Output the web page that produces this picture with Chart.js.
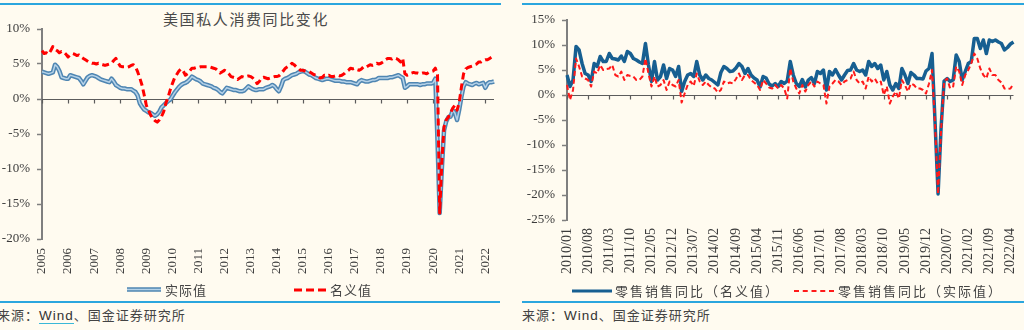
<!DOCTYPE html>
<html>
<head>
<meta charset="utf-8">
<script src="https://cdn.jsdelivr.net/npm/chart.js@4.4.1/dist/chart.umd.min.js"></script>
<style>
  body { margin: 0; width: 1024px; height: 330px; overflow: hidden; position: relative; background: #fffbf0; font-family: "Noto Sans CJK SC", sans-serif; color: #444; }
  canvas { position: absolute; top: 0; }
  .rule { position: absolute; height: 2px; background: #2ba6de; }
  .txt { position: absolute; font-size: 13px; line-height: 18px; white-space: nowrap; }
  .title { position: absolute; left: 163px; top: 8px; font-size: 15px; letter-spacing: 1.6px; color: #4a4a4a; white-space: nowrap; }
  .key { position: absolute; }
  .wind { font-family: "Liberation Sans", sans-serif; font-size: 13.5px; color: #333; }
  .wind.ul { border-bottom: 1.5px solid #39b8d8; }
</style>
</head>
<body>
<div class="rule" style="left:0;top:3px;width:501px"></div>
<div class="rule" style="left:522px;top:3px;width:502px"></div>
<div class="title">美国私人消费同比变化</div>

<canvas id="pceChart" width="502" height="282" style="left:0"></canvas>
<canvas id="retailChart" width="512" height="282" style="left:512px"></canvas>

<!-- legends -->
<svg class="key" style="left:127px;top:286px" width="34" height="7">
  <line x1="0" y1="3.5" x2="34" y2="3.5" stroke="#4f86b2" stroke-width="4.5"/>
  <line x1="0" y1="3.5" x2="34" y2="3.5" stroke="#b5d2e8" stroke-width="1.5"/>
</svg>
<div class="txt" style="left:165px;top:281px;letter-spacing:1px">实际值</div>
<svg class="key" style="left:294px;top:287px" width="32" height="6">
  <line x1="0" y1="3" x2="32" y2="3" stroke="#ff0000" stroke-width="3" stroke-dasharray="8 4"/>
</svg>
<div class="txt" style="left:330px;top:281px;letter-spacing:1px">名义值</div>

<svg class="key" style="left:572px;top:288px" width="40" height="6">
  <line x1="0" y1="3" x2="40" y2="3" stroke="#175f91" stroke-width="3"/>
</svg>
<div class="txt" style="left:615px;top:282px;letter-spacing:2px">零售销售同比（名义值）</div>
<svg class="key" style="left:794px;top:288px" width="40" height="6">
  <line x1="0" y1="3" x2="40" y2="3" stroke="#ff1a1a" stroke-width="2" stroke-dasharray="5 3.75"/>
</svg>
<div class="txt" style="left:838px;top:282px;letter-spacing:2px">零售销售同比（实际值）</div>

<div class="rule" style="left:0;top:301px;width:500px;height:1.5px"></div>
<div class="rule" style="left:522px;top:301px;width:502px;height:1.5px"></div>
<div class="txt" style="left:-3px;top:306px;letter-spacing:1px">来源：<span class="wind ul">Wind</span>、国金证券研究所</div>
<div class="txt" style="left:522px;top:306px;letter-spacing:1px">来源：<span class="wind">Wind</span>、国金证券研究所</div>

<script>
// US personal consumption, yoy %, monthly 2005/01 - 2022/05
const pceYears = ['2005', '2006', '2007', '2008', '2009', '2010', '2011', '2012', '2013',
  '2014', '2015', '2016', '2017', '2018', '2019', '2020', '2021', '2022'];

const pceReal = [
  3.9, 3.8, 3.7, 3.6, 3.7, 3.8, 4.9, 4.6, 4.0, 3.1, 3.0, 2.9,
  2.9, 3.4, 3.3, 3.2, 3.1, 3.0, 2.6, 2.1, 2.6, 3.1, 3.3, 3.4,
  3.3, 3.2, 3.0, 2.8, 2.7, 2.6, 2.5, 2.4, 2.9, 2.5, 2.0, 1.8,
  1.6, 1.5, 1.5, 1.4, 1.4, 1.4, 1.2, 1.0, 0.5, -0.6, -1.1, -1.5,
  -1.7, -1.9, -2.0, -2.2, -2.4, -2.2, -1.8, -1.2, -0.9, -0.6, -0.3, -0.1,
  0.4, 0.9, 1.3, 1.7, 2.0, 2.2, 2.3, 2.5, 2.8, 3.2, 3.0, 2.8,
  2.7, 2.5, 2.2, 2.1, 2.0, 1.9, 1.8, 1.6, 1.5, 1.3, 1.0, 0.8,
  1.2, 1.6, 1.5, 1.4, 1.3, 1.3, 1.2, 1.1, 1.1, 1.2, 1.5, 1.8,
  1.6, 1.4, 1.3, 1.3, 1.4, 1.4, 1.4, 1.6, 1.7, 1.8, 2.0, 1.8,
  1.4, 1.1, 1.8, 2.7, 2.9, 3.0, 3.2, 3.4, 3.5, 3.6, 3.8, 3.9,
  4.0, 3.9, 3.7, 3.5, 3.4, 3.2, 3.0, 2.9, 2.8, 2.7, 2.8, 2.9,
  2.9, 2.8, 2.7, 2.6, 2.6, 2.6, 2.5, 2.5, 2.4, 2.4, 2.4, 2.3,
  2.2, 2.1, 2.5, 2.7, 2.6, 2.5, 2.5, 2.6, 2.7, 2.7, 2.8, 3.0,
  3.0, 3.0, 3.0, 3.0, 3.1, 3.1, 3.2, 3.3, 3.4, 3.2, 3.0, 1.6,
  1.8, 2.1, 2.1, 2.1, 2.1, 2.1, 2.0, 2.1, 2.1, 2.2, 2.2, 2.2,
  2.3, 2.9, -6.0, -16.3, -10.0, -4.5, -3.2, -2.6, -2.5, -1.6, -2.0, -3.0,
  -1.5, 0.3, 1.8, 2.4, 2.2, 2.1, 2.0, 2.2, 2.3, 2.1, 2.2, 2.3,
  1.6, 2.2, 2.4, 2.4, 2.5
];

const pceNominal = [
  6.9, 6.5, 6.6, 6.4, 6.9, 7.5, 7.1, 6.9, 6.6, 6.8, 6.7, 6.4,
  6.0, 6.3, 6.5, 6.4, 6.2, 6.3, 6.0, 5.8, 5.6, 5.4, 5.2, 5.1,
  5.1, 5.0, 5.1, 5.0, 4.9, 4.8, 4.9, 5.0, 5.1, 5.5, 5.8, 5.2,
  4.7, 4.6, 4.6, 4.5, 4.6, 4.8, 4.9, 4.6, 3.9, 3.0, 2.0, 0.6,
  -0.9, -1.6, -2.3, -2.8, -3.1, -3.3, -3.0, -2.5, -1.8, -0.6, 0.2, 1.3,
  2.2, 3.0, 3.5, 4.0, 4.3, 4.0, 3.4, 3.6, 4.0, 4.4, 4.4, 4.5,
  4.5, 4.6, 4.6, 4.6, 4.6, 4.6, 4.5, 4.4, 4.3, 4.0, 3.7, 3.9,
  4.1, 3.9, 3.6, 3.2, 3.1, 3.0, 2.8, 3.0, 3.2, 3.1, 3.2, 3.3,
  3.2, 3.0, 2.7, 2.2, 2.5, 3.0, 3.1, 3.0, 2.9, 3.0, 3.1, 3.2,
  3.2, 3.3, 3.6, 4.0, 4.4, 4.6, 4.8, 5.1, 4.9, 4.6, 4.4, 4.1,
  4.1, 4.0, 3.9, 3.9, 3.7, 3.5, 3.4, 3.2, 3.0, 3.1, 3.4, 3.3,
  3.4, 3.2, 3.2, 3.3, 3.4, 3.3, 3.4, 3.6, 3.9, 4.1, 4.4, 4.3,
  4.4, 4.2, 4.1, 4.3, 4.6, 4.5, 4.7, 4.9, 4.8, 4.9, 5.1, 5.0,
  5.1, 5.3, 5.6, 5.8, 5.8, 5.7, 5.9, 5.8, 5.6, 5.3, 5.8, 3.6,
  3.4, 3.5, 3.7, 3.8, 3.7, 3.7, 3.6, 3.7, 3.7, 3.6, 3.8, 3.9,
  4.0, 4.4, 3.5, -16.3, -9.0, -4.0, -3.0, -2.6, -2.0, -1.3, -0.9, -1.6,
  -0.5, 1.7, 3.6, 4.3, 4.5, 4.6, 4.7, 4.9, 5.0, 5.3, 5.3, 5.5,
  5.6, 5.6, 5.8, 6.0, 6.0
];

// US retail sales, yoy %, monthly 2010/01 - 2022/05
const retailYears = ['2010', '2011', '2012', '2013', '2014', '2015', '2016',
  '2017', '2018', '2019', '2020', '2021', '2022'];

const retailNominal = [
  4.0, 1.7, 3.0, 9.7, 9.0, 6.3, 4.3, 4.0, 2.7, 6.3, 5.7, 7.7,
  6.7, 6.7, 8.3, 7.3, 7.2, 7.0, 7.8, 6.7, 8.7, 8.3, 7.3, 7.0,
  6.6, 6.3, 10.3, 6.0, 2.7, 6.7, 3.0, 3.7, 6.0, 3.3, 5.3, 5.0,
  3.7, 5.7, 0.7, 2.7, 4.0, 4.3, 3.7, 6.7, 4.0, 3.0, 4.0, 3.3,
  3.0, 2.5, 2.0, 4.5, 5.7, 5.3, 4.7, 4.8, 5.4, 6.3, 5.7, 4.3,
  5.3, 4.0, 3.4, 3.0, 1.6, 3.7, 3.4, 2.2, 1.8, 2.3, 1.7, 2.7,
  2.3, 2.8, 6.7, 4.0, 2.3, 1.7, 3.1, 1.6, 3.0, 3.5, 2.3, 4.7,
  4.3, 5.0, 1.0, 4.7, 4.0, 5.1, 4.0, 3.0, 4.0, 4.9, 5.0, 6.3,
  5.0, 4.7, 5.0, 4.0, 6.7, 5.7, 6.3, 5.3, 6.0, 3.0, 4.7, 2.0,
  1.0, 2.3, 1.3, 5.3, 4.0, 2.3, 4.5, 4.0, 3.3, 3.3, 3.2, 4.8,
  5.3, 8.3, -5.5, -19.8, -6.5, 2.8, 3.3, 2.7, 3.0, 8.0, 6.7, 3.0,
  4.7, 6.3, 6.7, 11.3, 11.3, 9.3, 11.0, 8.3, 11.0, 10.7, 11.0, 10.6,
  10.3, 9.0, 9.5, 10.2, 10.6
];

const retailReal = [
  2.0, -1.0, 1.0, 7.3, 5.7, 3.7, 3.3, 3.0, 1.7, 4.7, 4.3, 6.0,
  5.0, 5.2, 5.3, 6.0, 4.0, 3.7, 4.7, 3.0, 4.0, 3.8, 3.7, 3.0,
  3.0, 3.7, 7.3, 4.3, 1.7, 3.7, 1.7, 2.0, 3.0, 1.0, 2.7, 2.0,
  1.7, 3.0, -1.5, 0.3, 2.0, 2.7, 1.8, 4.3, 2.7, 2.0, 2.7, 2.0,
  1.5, 1.3, 0.5, 1.0, 2.7, 2.3, 2.5, 2.3, 3.2, 4.3, 3.0, 4.0,
  4.0, 3.0, 2.5, 2.0, 1.0, 3.0, 2.3, 1.5, 1.3, 2.0, 1.3, 2.0,
  1.3, -0.7, 5.3, 2.7, 1.3, 0.3, 2.0, 0.7, 2.0, 2.7, 1.7, 2.7,
  2.3, 2.0, -1.7, 1.7, 2.3, 3.0, 2.7, 2.0, 2.7, 3.0, 3.3, 4.7,
  3.0, 2.3, 2.7, 1.3, 3.7, 2.7, 3.3, 2.3, 2.7, 0.0, 1.7, -1.7,
  -0.3, 0.7, -0.7, 3.0, 2.0, 0.7, 2.3, 2.0, 1.3, 1.3, 1.0, 0.3,
  2.3, 5.0, -6.0, -19.8, -7.0, 2.7, 3.3, 1.3, 1.7, 5.7, 4.7, 2.0,
  4.0, 5.0, 6.3, 8.3, 7.3, 5.3, 4.0, 3.3, 5.3, 4.0, 4.0, 3.0,
  2.5, 1.3, 1.2, 1.3, 2.3
];

function monthLabels(years, sep, count) {
  const out = [];
  years.forEach(y => {
    for (let m = 1; m <= 12; m++) out.push(y + sep + String(m).padStart(2, '0'));
  });
  return out.slice(0, count);
}

const pceMonths = monthLabels(pceYears, '-', pceNominal.length);
const retailMonths = monthLabels(retailYears, '/', retailNominal.length);

// horizontal axis through zero with small downward ticks at labelled months
const zeroAxis = {
  id: 'zeroAxis',
  beforeDatasetsDraw(chart, args, opts) {
    const { ctx, chartArea, scales: { x, y } } = chart;
    const y0 = Math.round(y.getPixelForValue(0)) + 0.5;
    ctx.save();
    ctx.strokeStyle = '#5c5c5c';
    ctx.lineWidth = 1.2;
    ctx.beginPath();
    ctx.moveTo(chartArea.left, y0);
    ctx.lineTo(chartArea.right, y0);
    for (let i = 0; i < chart.data.labels.length; i += opts.step) {
      const px = Math.round(x.getPixelForValue(i)) + 0.5;
      ctx.moveTo(px, y0);
      ctx.lineTo(px, y0 + 4);
    }
    ctx.stroke();
    ctx.restore();
  }
};

const axisFont = { family: '"Liberation Serif", serif', size: 13 };

function yAxis(min, max, width) {
  return {
    min, max,
    ticks: { stepSize: 5, padding: 7, font: axisFont, color: '#3c3c3c', callback: v => v + '%' },
    grid: { drawOnChartArea: false, tickLength: 5, tickColor: '#7f7f7f', tickWidth: 1.5 },
    border: { color: '#7f7f7f', width: 2 },
    afterFit(s) { s.width = width; }
  };
}

function xAxis(height, pad, step, font, fmt) {
  return {
    ticks: {
      autoSkip: false, minRotation: 90, maxRotation: 90, padding: pad,
      font, color: '#3c3c3c',
      callback(v, i) { return i % step === 0 ? fmt(this.getLabelForValue(v)) : ''; }
    },
    grid: { display: false, drawTicks: false },
    border: { display: false },
    // plot width is set by the layout padding, not by the rotated end labels
    afterFit(s) { s.height = height; s.paddingLeft = 0; s.paddingRight = 0; }
  };
}

const common = {
  responsive: false,
  animation: false,
  elements: { point: { radius: 0 }, line: { tension: 0, borderJoinStyle: 'round' } },
  plugins: { legend: { display: false }, tooltip: { enabled: false } }
};

new Chart(document.getElementById('pceChart'), {
  type: 'line',
  data: {
    labels: pceMonths,
    datasets: [
      { label: '名义值', data: pceNominal, borderColor: '#ff0000', borderWidth: 3, borderDash: [7, 4] },
      { label: '实际值', data: pceReal, borderColor: '#b5d2e8', borderWidth: 1.5 },
      { label: '实际值', data: pceReal, borderColor: '#4f86b2', borderWidth: 4.5 }
    ]
  },
  options: {
    ...common,
    layout: { padding: { top: 29, right: 8, left: 0, bottom: 0 } },
    scales: {
      x: xAxis(43, 9, 12, axisFont, l => l.slice(0, 4)),
      y: yAxis(-20, 10, 42)
    },
    plugins: { ...common.plugins, zeroAxis: { step: 12 } }
  },
  plugins: [zeroAxis]
});

new Chart(document.getElementById('retailChart'), {
  type: 'line',
  data: {
    labels: retailMonths,
    datasets: [
      { label: '零售销售同比（实际值）', data: retailReal, borderColor: '#ff1a1a', borderWidth: 2, borderDash: [5, 3] },
      { label: '零售销售同比（名义值）', data: retailNominal, borderColor: '#175f91', borderWidth: 3.5 }
    ]
  },
  options: {
    ...common,
    layout: { padding: { top: 20, right: 10.5, left: 0, bottom: 0 } },
    scales: {
      x: xAxis(62, 8, 7, { family: '"Liberation Serif", serif', size: 14 }, l => l),
      y: yAxis(-25, 15, 55)
    },
    plugins: { ...common.plugins, zeroAxis: { step: 7 } }
  },
  plugins: [zeroAxis]
});
</script>
</body>
</html>
